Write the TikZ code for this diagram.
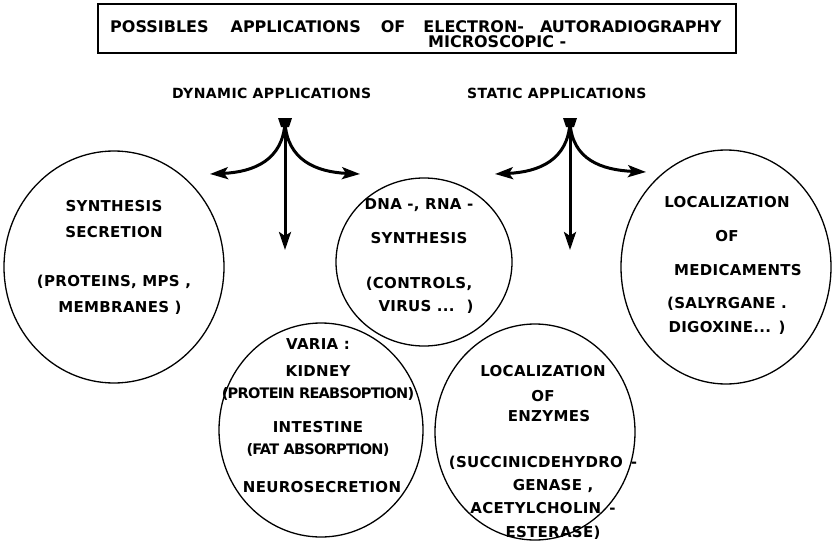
\documentclass[tikz,border=0pt]{standalone}
\usepackage{fontspec}
\setmainfont{DejaVu Sans}[LetterSpace=2]
\usetikzlibrary{arrows.meta,shapes.geometric,positioning}

\newcommand{\tighter}[1]{{\addfontfeature{LetterSpace=-5}\fontsize{14.5}{22}\selectfont#1}}

\begin{document}
\begin{tikzpicture}[x=1pt,y=-1pt,>={Stealth[length=18pt,width=12pt,inset=4pt]},
	fork/.style={->,line width=3pt},
	appcircle/.style={draw,ellipse,line width=1.3pt,inner sep=0pt},
	apptext/.style={align=center,inner sep=0pt,anchor=north,font=\bfseries\fontsize{15}{#1}\selectfont},
	headtext/.style={inner sep=0pt,anchor=base west,font=\bfseries\fontsize{16}{17}\selectfont\addfontfeature{LetterSpace=0}},
	kindtext/.style={inner sep=0pt,anchor=base west,font=\bfseries\fontsize{14}{15}\selectfont\addfontfeature{LetterSpace=3}}]
		\useasboundingbox (0,0) rectangle (838,546);
		% title
		\node[headtext] (head) at (110,32) {POSSIBLES\hspace{22pt}APPLICATIONS\hspace{20pt}OF\hspace{18pt}ELECTRON-\hspace{16pt}AUTORADIOGRAPHY};
		\node[headtext] (subhead) at (428,47) {MICROSCOPIC -};
		\draw[line width=1.1pt] (98,4) rectangle (736,53);
		% the two kinds
		\node[kindtext] (dynlabel) at (172,98) {DYNAMIC APPLICATIONS};
		\node[kindtext] (statlabel) at (467,98) {STATIC APPLICATIONS};
		% forks
		\coordinate (dynroot) at (285,122);
		\coordinate (dynleft) at (210,174);
		\coordinate (dynright) at (360,174);
		\coordinate (dyndown) at (285,250);
		\coordinate (statroot) at (570,122);
		\coordinate (statleft) at (495,174);
		\coordinate (statright) at (646,172);
		\coordinate (statdown) at (570,250);
		\fill (278,118) -- (292,118) -- (289,127) -- (281,127) -- cycle;
		\fill (563,118) -- (577,118) -- (574,127) -- (566,127) -- cycle;
		\draw[fork] (dynroot) -- (dyndown);
		\draw[fork] (dynroot) .. controls +(-2,38) and +(44,-2) .. (dynleft);
		\draw[fork] (dynroot) .. controls +(2,38) and +(-44,-2) .. (dynright);
		\draw[fork] (statroot) -- (statdown);
		\draw[fork] (statroot) .. controls +(-2,38) and +(44,-2) .. (statleft);
		\draw[fork] (statroot) .. controls +(2,38) and +(-44,-2) .. (statright);
		% circles
		\node[appcircle,minimum width=220pt,minimum height=232pt] (synth) at (114,267) {};
		\node[appcircle,minimum width=176pt,minimum height=168pt] (dna) at (424,262) {};
		\node[appcircle,minimum width=210pt,minimum height=234pt] (medic) at (726,267) {};
		\node[appcircle,minimum width=204pt,minimum height=214pt] (varia) at (321,430) {};
		\node[appcircle,minimum width=200pt,minimum height=216pt] (enzym) at (535,432) {};
		% texts
		\node[apptext=26pt] (synthtext) at (114,200) {SYNTHESIS\\SECRETION\\[23pt](PROTEINS, MPS ,\\\hspace*{12pt}MEMBRANES )};
		\node[apptext=23pt] (dnatext) at (419,198) {DNA -, RNA -\\[11pt]SYNTHESIS\\[22pt](CONTROLS,\\\hspace*{14pt}VIRUS ...\hspace{12pt})};
		\node[apptext=24pt] (medictext) at (727,196) {LOCALIZATION\\[10pt]OF\\[10pt]\hspace*{22pt}MEDICAMENTS\\[9pt](SALYRGANE .\\DIGOXINE... )};
		\node[apptext=22pt] (variatext) at (318,338) {VARIA :\\[5pt]KIDNEY\\\tighter{(PROTEIN REABSOPTION)}\\[12pt]INTESTINE\\\tighter{(FAT ABSORPTION)}\\[16pt]\hspace*{8pt}NEUROSECRETION};
		\node[apptext=23pt] (enzymtext) at (543,365) {LOCALIZATION\\[2pt]OF\\[-3pt]\hspace*{12pt}ENZYMES\\[23pt](SUCCINICDEHYDRO\hspace{8pt}-\hspace*{20pt}\\\hspace*{20pt}GENASE ,\\ACETYLCHOLIN\hspace{8pt}-\\[1pt]\hspace*{20pt}ESTERASE)};
	\end{tikzpicture}
\end{document}
